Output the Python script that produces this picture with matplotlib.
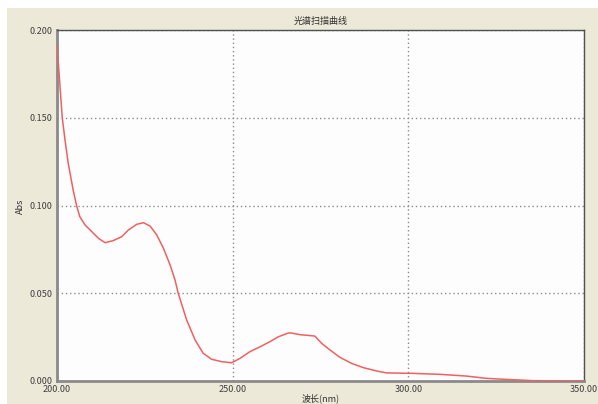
import numpy as np
import matplotlib
matplotlib.use('Agg')
import matplotlib.pyplot as plt
from matplotlib.patches import Rectangle
from matplotlib.ticker import FormatStrFormatter

plt.rcParams['font.family'] = ['Noto Sans CJK SC', 'DejaVu Sans']

# spectrum
wavelength = [200.0, 201.5, 202.3, 203.2, 204.6, 205.6, 206.5, 208.0, 209.9, 211.8,
              213.7, 216.0, 218.4, 220.3, 222.7, 224.6, 226.5, 228.4, 230.3, 232.2,
              233.6, 234.5, 236.9, 239.3, 241.6, 244.0, 246.9, 249.7, 252.1, 254.9,
              257.8, 260.6, 263.0, 265.8, 266.5, 269.2, 273.4, 275.3, 277.7, 280.5,
              283.9, 287.2, 291.0, 293.8, 300.5, 309.0, 316.6, 322.3, 328.0, 335.5,
              342.0, 350.0]
absorbance = [0.1915, 0.150, 0.137, 0.124, 0.1088, 0.0997, 0.0936, 0.0889, 0.0851, 0.0813,
              0.0788, 0.0800, 0.0822, 0.0860, 0.0893, 0.0902, 0.0883, 0.0832, 0.0756, 0.0661,
              0.0575, 0.0500, 0.0348, 0.0234, 0.0158, 0.0124, 0.0110, 0.0104, 0.0129, 0.0167,
              0.0195, 0.0224, 0.0252, 0.0273, 0.0274, 0.0264, 0.0256, 0.0215, 0.0177, 0.0135,
              0.0100, 0.0076, 0.0057, 0.0046, 0.0044, 0.0038, 0.0028, 0.0015, 0.0009, 0.0002,
              0.0001, 0.0]

x_ticks = [200, 250, 300, 350]
y_ticks = [0.0, 0.05, 0.10, 0.15, 0.20]

W, H = 598, 404
fig = plt.figure(figsize=(W / 100, H / 100), dpi=100, facecolor='white')

# beige window panel
fig.patches.append(Rectangle((7 / W, 0), 1 - 7 / W, (H - 8) / H,
                             transform=fig.transFigure, facecolor='#ECE9D8',
                             edgecolor='none', zorder=-10))

ax = fig.add_axes([57 / W, (H - 381) / H, (584 - 57) / W, (381 - 30) / H])
ax.set_facecolor('#FDFDFD')

ax.plot(wavelength, absorbance, color='#F06060', lw=1.1, zorder=3,
        solid_joinstyle='round')

ax.set_xlim(200, 350)
ax.set_ylim(0, 0.2)
ax.set_xticks(x_ticks)
ax.set_yticks(y_ticks)
ax.xaxis.set_major_formatter(FormatStrFormatter('%.2f'))
ax.yaxis.set_major_formatter(FormatStrFormatter('%.3f'))
ax.tick_params(length=0, labelsize=6.5, colors='#404040', pad=3)

ax.grid(True, color='#8C8C8C', linestyle=(0, (1, 2)), lw=1.0)

for s in ['left', 'bottom']:
    ax.spines[s].set_color('#8A8A8A')
    ax.spines[s].set_linewidth(2.0)
for s in ['top', 'right']:
    ax.spines[s].set_color('#505050')
    ax.spines[s].set_linewidth(1.0)

fig.text(320.5 / W, 1 - 21 / H, '光谱扫描曲线', ha='center', va='center',
         fontsize=6.5, color='#303030')
fig.text(320.5 / W, 1 - 398 / H, '波长(nm)', ha='center', va='center',
         fontsize=6.5, color='#303030')
fig.text(20 / W, 1 - 206 / H, 'Abs', ha='center', va='center', rotation=90,
         fontsize=6.5, color='#303030')

fig.savefig('out.png', dpi=100)
